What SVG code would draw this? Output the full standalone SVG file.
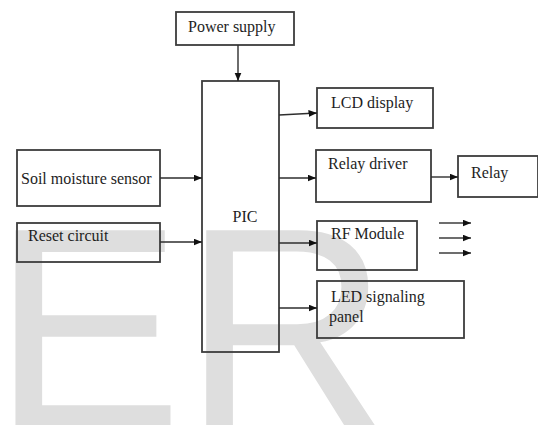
<svg xmlns="http://www.w3.org/2000/svg" width="538" height="425" viewBox="0 0 538 425">
<defs>
<style>
.box{fill:none;stroke:#3c3c3c;stroke-width:1.8}
.lbl{font-family:"Liberation Serif","Times New Roman",serif;font-size:16px;fill:#1e1e1e}
.conn line{stroke:#2e2e2e;stroke-width:1.4;marker-end:url(#ah)}
.wm{font-family:"Liberation Sans",Arial,sans-serif;font-size:286px;fill:#dedede}
</style>
<marker id="ah" markerUnits="userSpaceOnUse" markerWidth="9" markerHeight="8" refX="8.5" refY="3.5" orient="auto">
<path d="M0,0 L8.5,3.5 L0,7 z" fill="#111"/>
</marker>
</defs>
<rect width="538" height="425" fill="#fff"/>
<text class="wm" x="-8" y="427">ER</text>
<g id="power"><rect class="box" x="176" y="12" width="118" height="33"/><text class="lbl" x="188" y="32">Power supply</text></g>
<g id="pic"><rect class="box" x="202" y="81" width="77" height="271"/><text class="lbl" x="245" y="222" text-anchor="middle">PIC</text></g>
<g id="soil"><rect class="box" x="17" y="150" width="143" height="56"/><text class="lbl" x="21" y="184">Soil moisture sensor</text></g>
<g id="reset"><rect class="box" x="17" y="223" width="143" height="39"/><text class="lbl" x="28" y="241">Reset circuit</text></g>
<g id="lcd"><rect class="box" x="317" y="88" width="116" height="40"/><text class="lbl" x="331" y="108">LCD display</text></g>
<g id="relaydriver"><rect class="box" x="316" y="150" width="115" height="52"/><text class="lbl" x="328" y="169">Relay driver</text></g>
<g id="relay"><rect class="box" x="458" y="156" width="80" height="41"/><text class="lbl" x="471" y="178">Relay</text></g>
<g id="rf"><rect class="box" x="317" y="221" width="100" height="49"/><text class="lbl" x="331" y="239">RF Module</text></g>
<g id="led"><rect class="box" x="317" y="281" width="147" height="57"/><text class="lbl" x="331" y="302">LED signaling</text><text class="lbl" x="329" y="322">panel</text></g>
<g id="connectors" class="conn">
<line x1="238" y1="45" x2="238" y2="81"/>
<line x1="160" y1="178" x2="202" y2="178"/>
<line x1="160" y1="242" x2="202" y2="242"/>
<line x1="279" y1="115" x2="317" y2="113"/>
<line x1="279" y1="178" x2="316" y2="178"/>
<line x1="431" y1="177" x2="458" y2="177"/>
<line x1="279" y1="243" x2="317" y2="243"/>
<line x1="279" y1="308" x2="317" y2="308"/>
<line x1="439" y1="223" x2="471" y2="223"/>
<line x1="439" y1="238" x2="471" y2="238"/>
<line x1="439" y1="253" x2="471" y2="253"/>
</g>
</svg>
